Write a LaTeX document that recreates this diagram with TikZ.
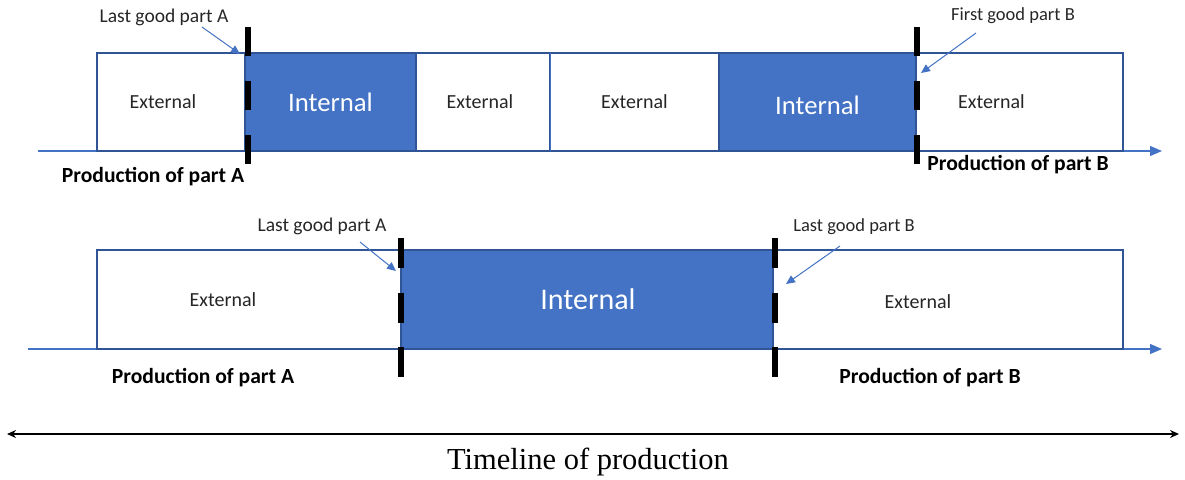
\documentclass[tikz,border=0pt]{standalone}
\usepackage{fontspec}
\setmainfont{Carlito}
\newfontfamily\serifface{Liberation Serif}
\usetikzlibrary{arrows.meta}
\definecolor{fillblue}{HTML}{4472C4}
\definecolor{edgeblue}{HTML}{2F5597}
\definecolor{inktext}{HTML}{262626}
\tikzset{
  extbox/.style={draw=edgeblue, line width=1.5pt, fill=white, inner sep=0pt, outer sep=0pt},
  intbox/.style={draw=edgeblue, line width=1.5pt, fill=fillblue, inner sep=0pt, outer sep=0pt},
  exttext/.style={text=inktext, inner sep=0pt, font=\fontsize{20}{24}\selectfont},
  inttext/.style={text=white, inner sep=0pt},
  marktext/.style={text=inktext, inner sep=0pt, font=\fontsize{19.5}{23}\selectfont},
  prodtext/.style={text=black, inner sep=0pt, font=\bfseries\fontsize{21.6}{25}\selectfont},
  axisline/.style={draw=fillblue, line width=1.2pt, -{Triangle[length=12pt,width=10pt]}},
  pointer/.style={draw=fillblue, line width=1pt, -{Triangle[length=9pt,width=8pt]}},
  switchmark/.style={draw=black, line width=6pt, dash pattern=on 29pt off 25pt},
}
\begin{document}
\begin{tikzpicture}[x=1pt, y=-1pt]
\useasboundingbox (0,0) rectangle (1185,479);

% ---------- upper timeline ----------
\coordinate (ta0) at (38,151);
\coordinate (ta1) at (1162,151);
\draw[axisline] (ta0) -- (ta1);

\node[extbox, minimum width=148pt, minimum height=98pt] (u1) at (171,102) {};
\node[intbox, minimum width=171pt, minimum height=98pt] (u2) at (330.5,102) {};
\node[extbox, minimum width=134pt, minimum height=98pt] (u3) at (483,102) {};
\node[extbox, minimum width=169pt, minimum height=98pt] (u4) at (634.5,102) {};
\node[intbox, minimum width=197pt, minimum height=98pt] (u5) at (817.5,102) {};
\node[extbox, minimum width=207pt, minimum height=98pt] (u6) at (1019.5,102) {};
% thin seam between the two middle external blocks
\draw[fillblue, line width=1pt] (u3.north east) -- (u3.south east);

\node[exttext] (u1t) at ([xshift=-8pt]u1.center) {External};
\node[inttext, font=\fontsize{26.7}{30}\selectfont] (u2t) at (u2.center) {Internal};
\node[exttext] (u3t) at ([xshift=-3pt]u3.center) {External};
\node[exttext] (u4t) at (u4.center) {External};
\node[inttext, font=\fontsize{26.7}{30}\selectfont] (u5t) at ([yshift=-3pt]u5.center) {Internal};
\node[exttext] (u6t) at ([xshift=-28pt]u6.center) {External};

\coordinate (um1a) at (248,27);
\coordinate (um1b) at (248,164);
\coordinate (um2a) at (916.5,27);
\coordinate (um2b) at (916.5,164);
\draw[switchmark] (um1a) -- (um1b);
\draw[switchmark] (um2a) -- (um2b);

\node[marktext] (ul1) at (164,17) {Last good part A};
\node[marktext, font=\fontsize{18.5}{22}\selectfont] (ul2) at (1013,16) {First good part B};
\coordinate (up1) at (240,54);
\coordinate (up2) at (921,73);
\draw[pointer] (202,27) -- (up1);
\draw[pointer] (976,33) -- (up2);

\node[prodtext] (up) at (153,177) {Production of part A};
\node[prodtext] (uq) at (1018,165) {Production of part B};

% ---------- lower timeline ----------
\coordinate (la0) at (28,349);
\coordinate (la1) at (1162,349);
\draw[axisline] (la0) -- (la1);

\node[extbox, minimum width=304pt, minimum height=99pt] (l1) at (249,299.5) {};
\node[intbox, minimum width=372pt, minimum height=99pt] (l2) at (587,299.5) {};
\node[extbox, minimum width=350pt, minimum height=99pt] (l3) at (948,299.5) {};

\node[exttext] (l1t) at ([xshift=-26pt]l1.center) {External};
\node[inttext, font=\fontsize{30}{34}\selectfont] (l2t) at ([xshift=1pt]l2.center) {Internal};
\node[exttext] (l3t) at ([xshift=-30pt,yshift=-2pt]l3.center) {External};

\coordinate (lm1a) at (401,238);
\coordinate (lm1b) at (401,377);
\coordinate (lm2a) at (775,238);
\coordinate (lm2b) at (775,377);
\draw[switchmark, dash pattern=on 30pt off 24.5pt] (lm1a) -- (lm1b);
\draw[switchmark, dash pattern=on 30pt off 24.5pt] (lm2a) -- (lm2b);

\node[marktext] (ll1) at (322,226) {Last good part A};
\node[marktext, font=\fontsize{18.5}{22}\selectfont] (ll2) at (854,227) {Last good part B};
\coordinate (lp1) at (396,271);
\coordinate (lp2) at (786,284);
\draw[pointer] (360,242) -- (lp1);
\draw[pointer] (840,246) -- (lp2);

\node[prodtext] (lp) at (203,378) {Production of part A};
\node[prodtext] (lq) at (930,378) {Production of part B};

% ---------- overall time axis ----------
\coordinate (t0) at (7,434);
\coordinate (t1) at (1179,434);
\draw[black, line width=2pt, {Stealth[length=9pt,width=8pt]}-{Stealth[length=9pt,width=8pt]}] (t0) -- (t1);
\node[inner sep=0pt, font=\serifface\fontsize{30.5}{34}\selectfont] (tl) at (588,462) {Timeline of production};
\end{tikzpicture}
\end{document}
